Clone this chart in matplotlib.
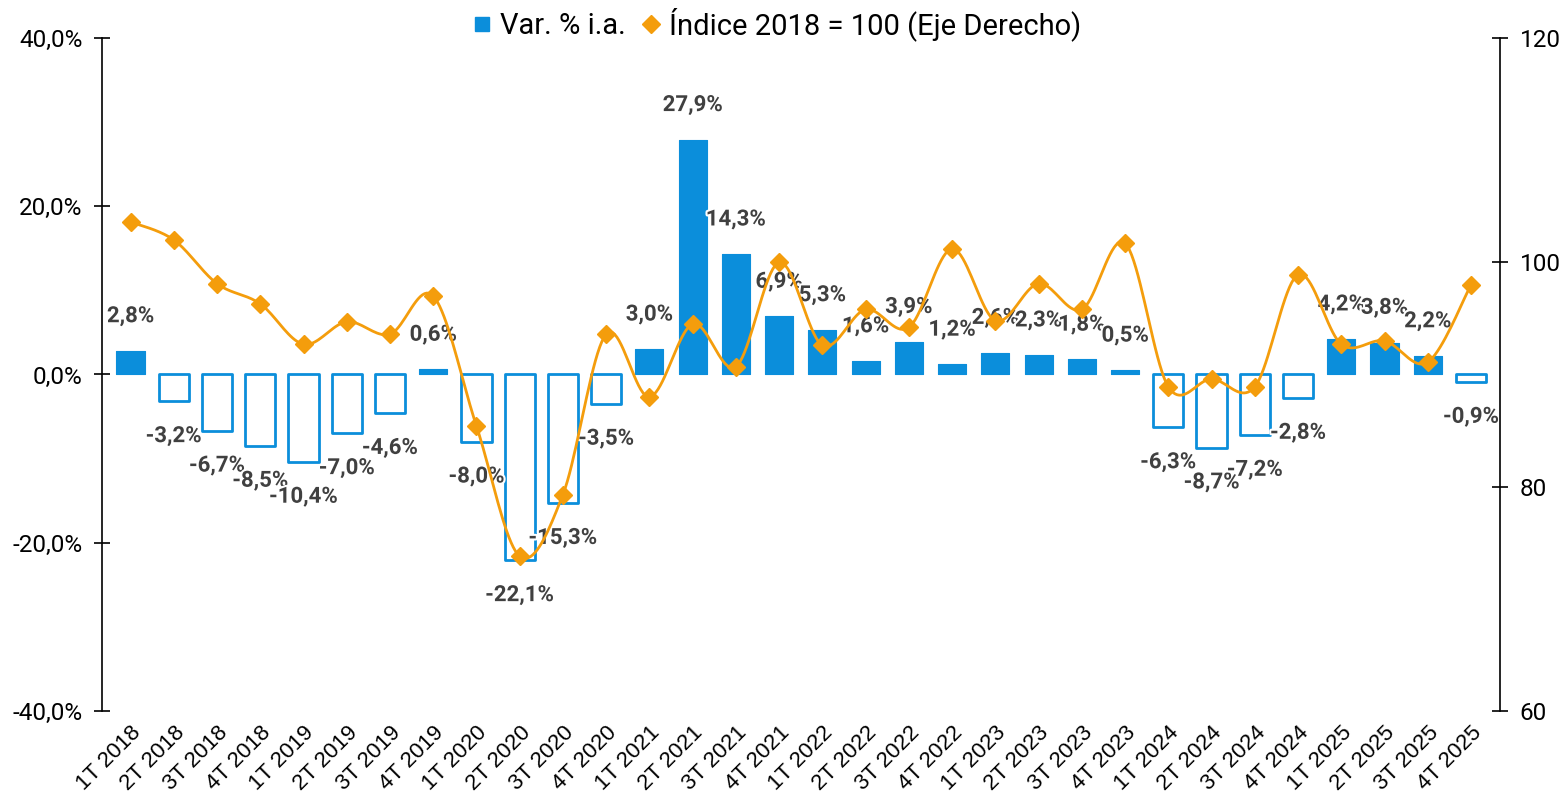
import matplotlib
matplotlib.use("Agg")
import matplotlib.pyplot as plt
import matplotlib.patheffects as pe
from matplotlib.lines import Line2D
import numpy as np

categories = ["1T 2018", "2T 2018", "3T 2018", "4T 2018",
              "1T 2019", "2T 2019", "3T 2019", "4T 2019",
              "1T 2020", "2T 2020", "3T 2020", "4T 2020",
              "1T 2021", "2T 2021", "3T 2021", "4T 2021",
              "1T 2022", "2T 2022", "3T 2022", "4T 2022",
              "1T 2023", "2T 2023", "3T 2023", "4T 2023",
              "1T 2024", "2T 2024", "3T 2024", "4T 2024",
              "1T 2025", "2T 2025", "3T 2025", "4T 2025"]

var_ia = [2.8, -3.2, -6.7, -8.5, -10.4, -7.0, -4.6, 0.6,
          -8.0, -22.1, -15.3, -3.5, 3.0, 27.9, 14.3, 6.9,
          5.3, 1.6, 3.9, 1.2, 2.6, 2.3, 1.8, 0.5,
          -6.3, -8.7, -7.2, -2.8, 4.2, 3.8, 2.2, -0.9]

indice = [103.6, 102.0, 98.1, 96.3, 92.7, 94.7, 93.6, 97.0,
          85.4, 73.8, 79.3, 93.6, 88.0, 94.5, 90.7, 100.0,
          92.6, 95.8, 94.2, 101.2, 94.8, 98.1, 95.8, 101.7,
          88.9, 89.6, 88.9, 98.9, 92.7, 93.0, 91.1, 98.0]

left_ticks = [-40, -20, 0, 20, 40]
right_ticks = [60, 80, 100, 120]

BLUE = "#0B8EDB"
ORANGE = "#F49D0C"
LABEL = "#404040"


def smooth_curve(x, y, steps=20):
    # Bezier smoothing (Excel-like) through the data points for drawing
    x = np.asarray(x, float)
    y = np.asarray(y, float)
    n = len(x)
    xs, ys = [], []
    for i in range(n - 1):
        p0 = np.array([x[max(i - 1, 0)], y[max(i - 1, 0)]])
        p1 = np.array([x[i], y[i]])
        p2 = np.array([x[i + 1], y[i + 1]])
        p3 = np.array([x[min(i + 2, n - 1)], y[min(i + 2, n - 1)]])
        c1 = p1 + (p2 - p0) / 6.0
        c2 = p2 - (p3 - p1) / 6.0
        t = np.linspace(0, 1, steps, endpoint=(i == n - 2))[:, None]
        pts = ((1 - t) ** 3) * p1 + 3 * ((1 - t) ** 2) * t * c1 + 3 * (1 - t) * t ** 2 * c2 + t ** 3 * p2
        xs.extend(pts[:, 0])
        ys.extend(pts[:, 1])
    return np.array(xs), np.array(ys)


fig = plt.figure(figsize=(15.6, 8.01), dpi=100)
ax = fig.add_axes([102 / 1560, 1 - 711 / 801, 1398 / 1560, 673 / 801])
ax2 = ax.twinx()
ax.set_zorder(ax2.get_zorder() - 1)
ax.patch.set_visible(False)

x = np.arange(len(categories))
vals = np.array(var_ia)
pos = vals >= 0
bars_pos = ax.bar(x[pos], vals[pos], width=0.65, color=BLUE, edgecolor=BLUE,
                  linewidth=0.8, zorder=2)
bars_neg = ax.bar(x[~pos], vals[~pos], width=0.7, color="white", edgecolor=BLUE,
                  linewidth=2.0, zorder=2)
for b in list(bars_pos) + list(bars_neg):
    b.set_joinstyle("round")

for xi, v in zip(x, var_ia):
    txt = f"{v:.1f}%".replace(".", ",")
    off = 25 if v >= 0 else -25
    ax.annotate(txt, (xi, v), xytext=(0, off), textcoords="offset points",
                ha="center", va="center", fontsize=16, fontweight="bold",
                family=["Roboto", "DejaVu Sans"], color=LABEL, zorder=5,
                path_effects=[pe.withStroke(linewidth=3, foreground="white")])

sx, sy = smooth_curve(x, indice)
ax2.plot(sx, sy, color=ORANGE, linewidth=2.0, zorder=3)
ax2.plot(x, indice, linestyle="none", marker="D", markersize=9.5,
         color=ORANGE, zorder=4)

ax.set_ylim(-40, 40)
ax2.set_ylim(60, 120)
ax.set_xlim(-0.66, len(categories) - 1 + 0.67)

ax.set_yticks(left_ticks)
ax.set_yticklabels([f"{t:.1f}%".replace(".", ",") for t in left_ticks],
                   fontsize=17.5, family="Roboto")
ax2.set_yticks(right_ticks)
ax2.set_yticklabels([str(t) for t in right_ticks], fontsize=17.5, family="Roboto")

ax.set_xticks(x)
ax.set_xticklabels(categories, rotation=45, ha="right", rotation_mode="anchor",
                   fontsize=16, family="Liberation Sans")
ax.tick_params(axis="x", length=0, pad=8)
ax.tick_params(axis="y", direction="inout", length=12, width=1.2, pad=8)
ax2.tick_params(axis="y", direction="inout", length=12, width=1.2, pad=8)

for a in (ax, ax2):
    for s in ("top", "bottom"):
        a.spines[s].set_visible(False)
ax.spines["right"].set_visible(False)
ax2.spines["left"].set_visible(False)
ax.spines["left"].set_linewidth(1.2)
ax2.spines["right"].set_linewidth(1.2)

handles = [Line2D([], [], linestyle="none", marker="s", markersize=10, color=BLUE),
           Line2D([], [], linestyle="none", marker="D", markersize=9, color=ORANGE)]
fig.legend(handles, ["Var. % i.a.", "Índice 2018 = 100 (Eje Derecho)"],
           loc="center", bbox_to_anchor=(777.5 / 1560, 1 - 24 / 801), ncol=2,
           frameon=False, prop={"family": "Roboto", "size": 21},
           handletextpad=0.33, columnspacing=0.55, handlelength=0.6)

fig.savefig("out.png", dpi=100)
